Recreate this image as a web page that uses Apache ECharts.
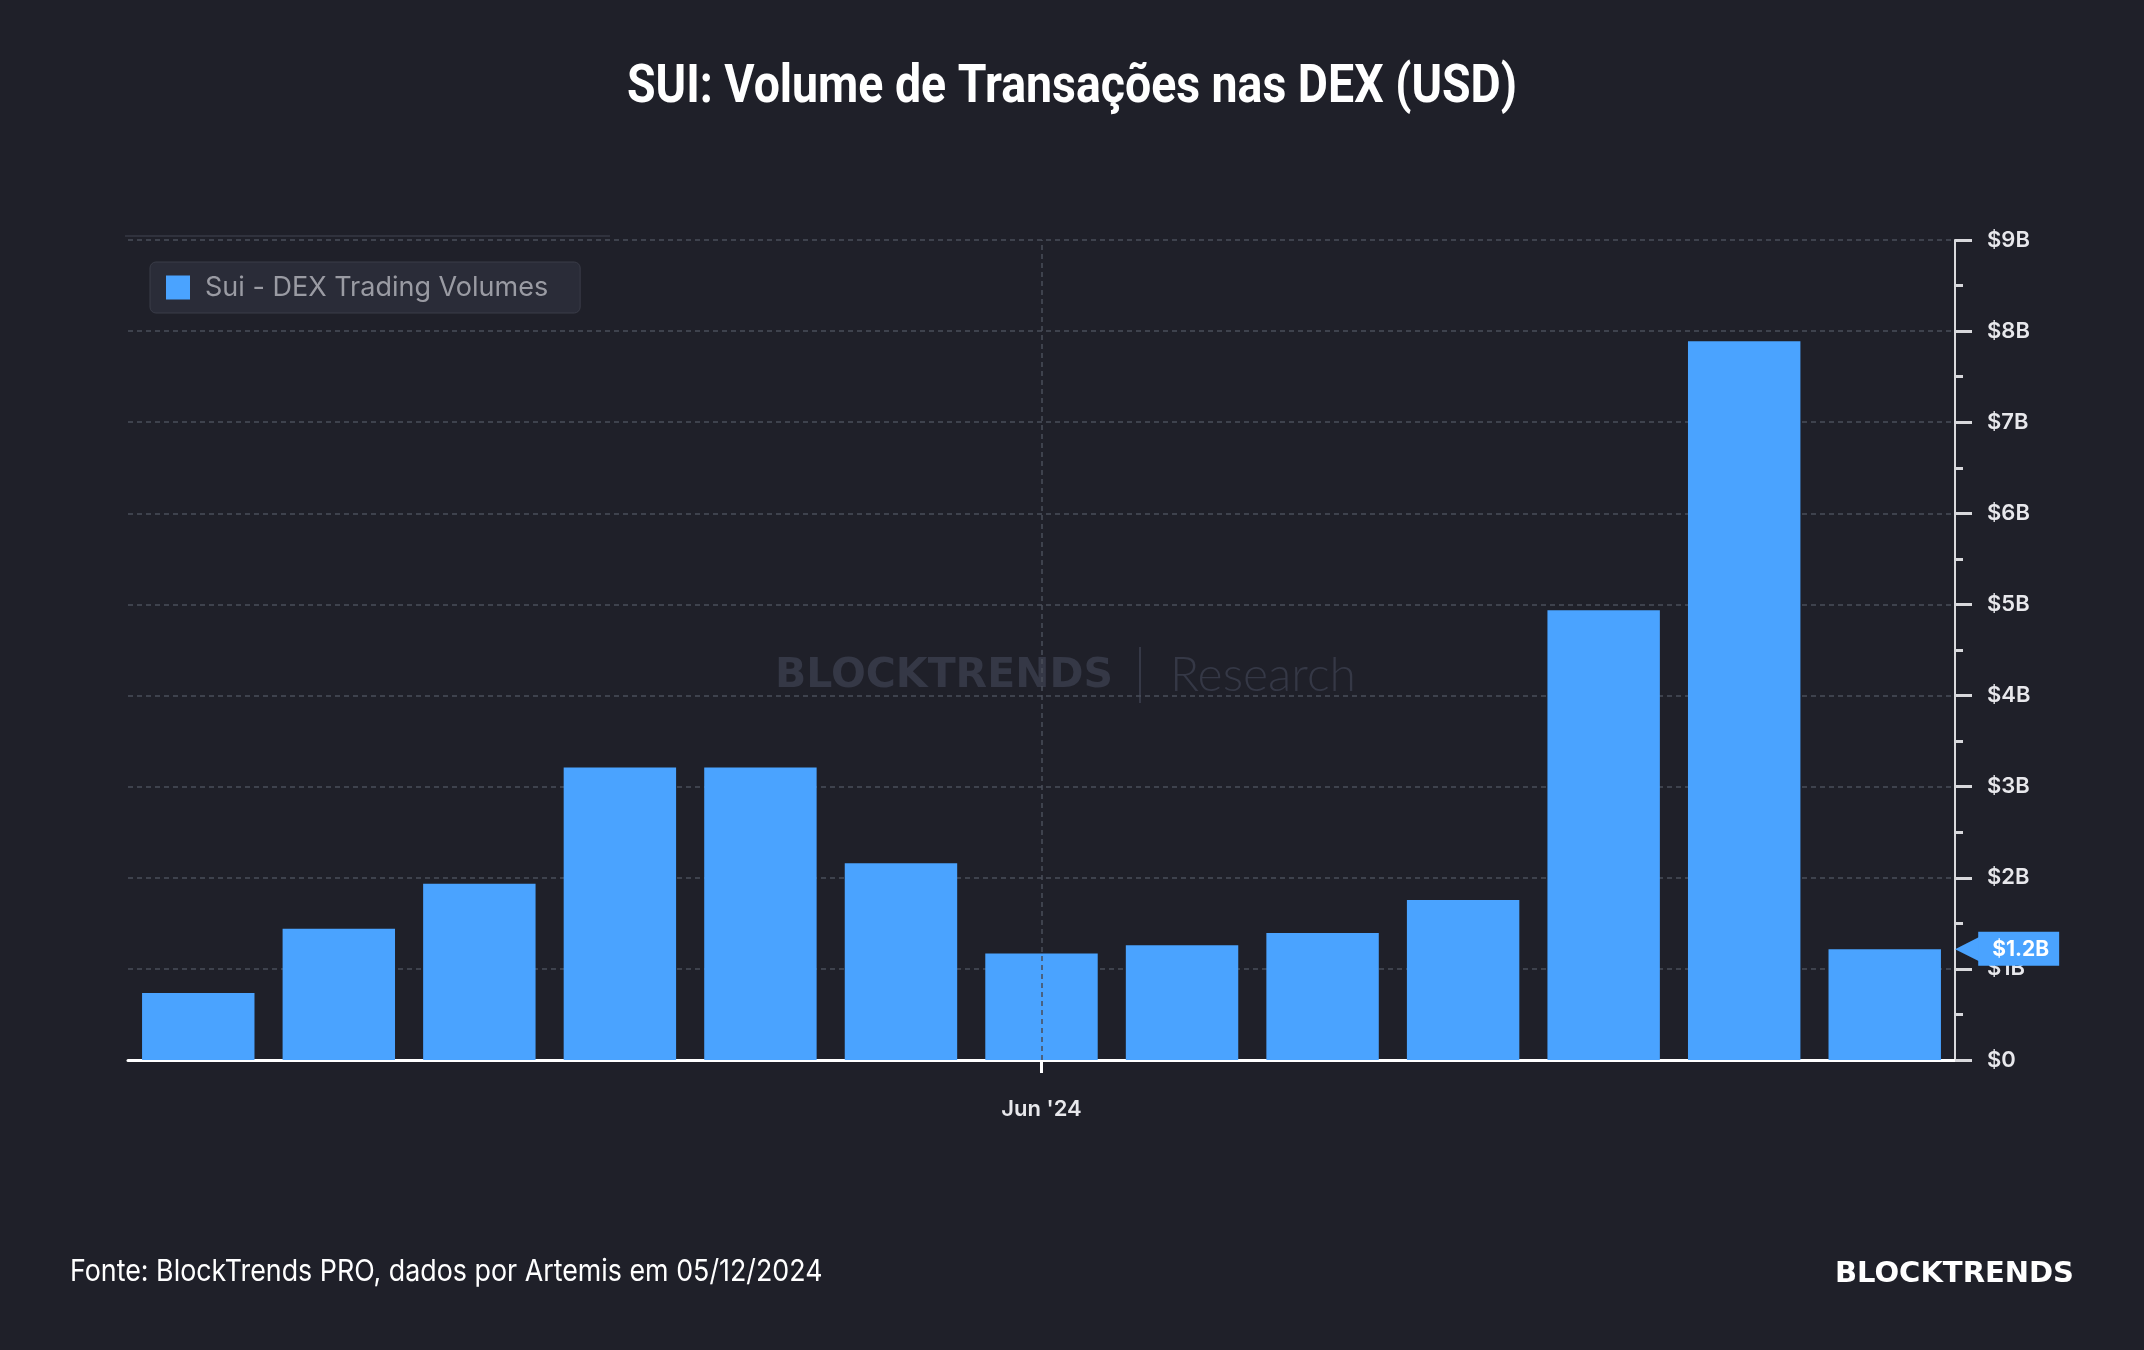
<!DOCTYPE html>
<html>
<head>
<meta charset="utf-8">
<script src="https://cdn.jsdelivr.net/npm/echarts@6/dist/echarts.min.js"></script>
<style>
  html, body { margin: 0; padding: 0; background: #1f2029; }
  #chart { width: 2144px; height: 1350px; }
</style>
</head>
<body>
<div id="chart"></div>
<script>
// meses (dez/23 .. dez/24), só "Jun '24" aparece no eixo
const months = ["Dec '23", "Jan '24", "Feb '24", "Mar '24", "Apr '24", "May '24", "Jun '24",
  "Jul '24", "Aug '24", "Sep '24", "Oct '24", "Nov '24", "Dec '24"];
// volume mensal em bilhões de USD
const volumes = [0.735, 1.44, 1.935, 3.21, 3.21, 2.16, 1.17, 1.26, 1.395, 1.755, 4.935, 7.89, 1.215];
const seriesName = 'Sui - DEX Trading Volumes';
const labelMonth = "Jun '24";

const blue = '#4aa3ff';
const chart = echarts.init(document.getElementById('chart'));
const lastValue = volumes[volumes.length - 1];

chart.setOption({
  backgroundColor: '#1f2029',
  animation: false,
  legend: {
    left: 150,
    top: 262,
    icon: 'rect',
    itemWidth: 24,
    itemHeight: 24,
    backgroundColor: '#2a2c38',
    borderColor: '#3a3c48',
    borderWidth: 1,
    borderRadius: 6,
    padding: [12, 32, 12, 16],
    textStyle: { color: '#9a9ba3', fontSize: 27, fontFamily: 'Inter, sans-serif', padding: [0, 0, 0, 10] },
    data: [seriesName]
  },
  grid: { left: 128, right: 189, top: 240, bottom: 290 },
  xAxis: {
    type: 'category',
    data: months,
    axisLine: { lineStyle: { color: '#ffffff', width: 3 } },
    axisTick: { show: true, alignWithLabel: true, length: 13, interval: (i, v) => v === labelMonth, lineStyle: { color: '#ffffff', width: 3 } },
    axisLabel: { interval: (i, v) => v === labelMonth, color: '#e8e8ec', fontSize: 22, fontWeight: 600, margin: 38, fontFamily: 'Inter, sans-serif' },
    splitLine: { show: false }
  },
  yAxis: {
    type: 'value',
    position: 'right',
    min: 0,
    max: 9,
    interval: 1,
    axisLine: { show: true, lineStyle: { color: '#d8d8dc', width: 2 } },
    axisTick: { show: true, length: 17, lineStyle: { color: '#d8d8dc', width: 3 } },
    minorTick: { show: true, splitNumber: 2, length: 8, lineStyle: { color: '#d8d8dc', width: 3 } },
    axisLabel: { color: '#e8e8ec', fontSize: 22, fontWeight: 600, margin: 32, fontFamily: 'Inter, sans-serif',
      formatter: v => v === 0 ? '$0' : '$' + v + 'B' },
    splitLine: { show: true, lineStyle: { color: '#4a4d5a', type: [5, 4], width: 1.5 } }
  },
  series: [{
    name: seriesName,
    type: 'bar',
    data: volumes,
    barWidth: '80%',
    itemStyle: { color: blue },
    markLine: {
      silent: true,
      symbol: ['none', 'none'],
      data: [
        { xAxis: labelMonth, lineStyle: { color: '#4a4d5a', type: [5, 4], width: 1.5 }, label: { show: false } },
        {
          // etiqueta do último valor no eixo
          yAxis: lastValue,
          lineStyle: { color: 'rgba(0,0,0,0)', width: 1 },
          label: {
            show: true,
            position: 'end',
            distance: 0,
            formatter: () => '{a|◀}{b|$' + lastValue.toFixed(1) + 'B}',
            rich: {
              a: { color: blue, fontSize: 38, padding: [0, -6, 0, 0], fontFamily: 'DejaVu Sans' },
              b: { color: '#ffffff', backgroundColor: blue, fontSize: 21, fontWeight: 'bold', padding: [7, 10, 6, 14], fontFamily: 'Inter, sans-serif' }
            }
          }
        }
      ]
    }
  }],
  graphic: [
    // título (fonte condensada)
    { type: 'text', left: 'center', top: 62, scaleX: 0.876, originX: 1072,
      style: { text: 'SUI: Volume de Transações nas DEX (USD)', fill: '#ffffff', font: 'bold 53px Roboto, sans-serif' } },
    // linha fina acima da legenda
    { type: 'rect', left: 125, top: 235, silent: true, shape: { width: 485, height: 2 }, style: { fill: '#30323d' } },
    // marca d'água
    { type: 'text', x: 775, y: 676, silent: true,
      style: { text: 'BLOCKTRENDS', fill: '#353846', font: 'bold 41px "DejaVu Sans", sans-serif', verticalAlign: 'middle' } },
    { type: 'rect', left: 1139, top: 647, silent: true, shape: { width: 2, height: 56 }, style: { fill: '#353846' } },
    { type: 'text', x: 1170, y: 676, silent: true,
      style: { text: 'Research', fill: '#353846', font: '300 48px Lato, "Noto Sans", sans-serif', verticalAlign: 'middle' } },
    // rodapé
    { type: 'text', left: 70, top: 1257, scaleX: 0.894,
      style: { text: 'Fonte: BlockTrends PRO, dados por Artemis em 05/12/2024', fill: '#ffffff', font: '30px Inter, sans-serif' } },
    { type: 'text', right: 70, top: 1260, style: { text: 'BLOCKTRENDS', fill: '#ffffff', font: 'bold 29px "DejaVu Sans", sans-serif' } }
  ]
});
</script>
</body>
</html>
